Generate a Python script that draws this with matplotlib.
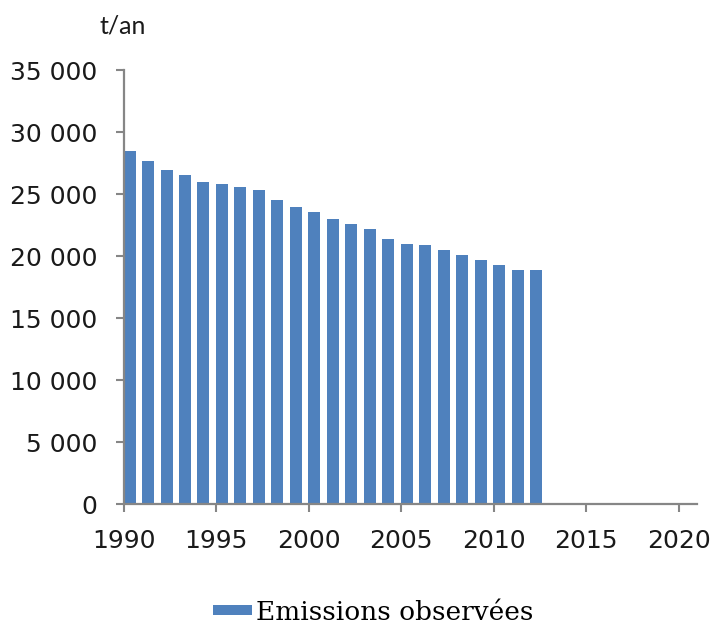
import matplotlib
matplotlib.use("Agg")
import matplotlib.pyplot as plt

# emissions per year (t/an)
years = list(range(1990, 2013))
emissions = [28500, 27700, 26950, 26550, 26000, 25800, 25600, 25300,
             24550, 23950, 23550, 23000, 22600, 22200, 21400, 21000,
             20850, 20450, 20050, 19700, 19300, 18900, 18900]
xticks = [1990, 1995, 2000, 2005, 2010, 2015, 2020]
yticks = [0, 5000, 10000, 15000, 20000, 25000, 30000, 35000]
ylabels = ["0", "5 000", "10 000", "15 000", "20 000", "25 000", "30 000", "35 000"]

blue = "#4f81bd"
grey = "#868686"

plt.rcParams["xtick.major.pad"] = 12
plt.rcParams["ytick.major.pad"] = 13

fig = plt.figure(figsize=(7.22, 6.28), dpi=100)
ax = fig.add_axes([124 / 722, 1 - 504 / 628, (697 - 124) / 722, (504 - 70) / 628])

ax.bar([y + 0.3 for y in years], emissions, width=0.65, color=blue,
       label="Emissions observées")

ax.set_xlim(1990, 2021)
ax.set_ylim(0, 35000)
ax.set_xticks(xticks)
ax.set_xticklabels([str(x) for x in xticks])
ax.set_yticks(yticks)
ax.set_yticklabels(ylabels)

for side in ["top", "right"]:
    ax.spines[side].set_visible(False)
for side in ["left", "bottom"]:
    ax.spines[side].set_color(grey)
    ax.spines[side].set_linewidth(1.6)

ax.tick_params(axis="both", direction="out", colors=grey, width=1.5, length=6,
               labelcolor="#1a1a1a", labelsize=18)
ax.xaxis.set_tick_params(pad=12)

fig.text(123 / 722, 1 - 26 / 628, "t/an", fontsize=18, family="Lato",
         ha="center", va="center", color="#1a1a1a")

fig.legend(loc="center", bbox_to_anchor=(373 / 722, 1 - 612 / 628),
           frameon=False, prop={"family": "DejaVu Serif", "size": 19},
           handlelength=1.5, handleheight=0.24, handletextpad=0.15)

fig.savefig("out.png", dpi=100)
